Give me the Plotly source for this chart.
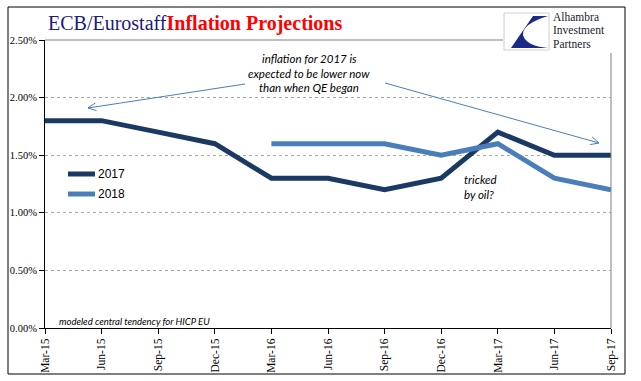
import math
import plotly.graph_objects as go

# ---- data ----
quarters = ["Mar-15", "Jun-15", "Sep-15", "Dec-15", "Mar-16", "Jun-16",
            "Sep-16", "Dec-16", "Mar-17", "Jun-17", "Sep-17"]
proj_2017 = [1.8, 1.8, 1.7, 1.6, 1.3, 1.3, 1.2, 1.3, 1.7, 1.5, 1.5]
quarters_2018 = ["Mar-16", "Jun-16", "Sep-16", "Dec-16", "Mar-17", "Jun-17", "Sep-17"]
proj_2018 = [1.6, 1.6, 1.6, 1.5, 1.6, 1.3, 1.2]
y_ticks = [0.0, 0.5, 1.0, 1.5, 2.0, 2.5]
y_tick_labels = ["0.00%", "0.50%", "1.00%", "1.50%", "2.00%", "2.50%"]

C2017 = "#1B3A63"
C2018 = "#4A7EBB"

W, H = 641, 381
L, R, T, B = 45, 611, 40, 328


def xp(px):
    return (px - L) / (R - L)


def yp(py):
    return (B - py) / (B - T)


fig = go.Figure()
fig.add_trace(go.Scatter(x=quarters, y=proj_2017, mode="lines", name="2017",
                         line=dict(color=C2017, width=5), showlegend=False))
fig.add_trace(go.Scatter(x=quarters_2018, y=proj_2018, mode="lines", name="2018",
                         line=dict(color=C2018, width=5), showlegend=False))

shapes = []
annotations = []

# outer frame
shapes.append(dict(type="rect", xref="paper", yref="paper",
                   x0=xp(8), x1=xp(625), y0=yp(374), y1=yp(7),
                   line=dict(color="black", width=1), fillcolor="rgba(0,0,0,0)", layer="above"))
# top & right plot border
shapes.append(dict(type="line", xref="paper", yref="paper", x0=0, x1=1, y0=1, y1=1,
                   line=dict(color="#808080", width=1)))
shapes.append(dict(type="line", xref="paper", yref="paper", x0=1, x1=1, y0=0, y1=1,
                   line=dict(color="#808080", width=1)))

# logo background
shapes.append(dict(type="rect", xref="paper", yref="paper",
                   x0=xp(503), x1=xp(622), y0=yp(53), y1=yp(10),
                   line=dict(width=0), fillcolor="white", layer="above"))
shapes.append(dict(type="rect", xref="paper", yref="paper",
                   x0=xp(504), x1=xp(549), y0=yp(50), y1=yp(13),
                   line=dict(color="#D0D0D0", width=1), fillcolor="white", layer="above"))


def logo_path(pts):
    s = ""
    for cmd, *coords in pts:
        vals = []
        for j in range(0, len(coords), 2):
            vals.append(f"{xp(coords[j]):.5f},{yp(coords[j+1]):.5f}")
        s += cmd + " ".join(vals) + " "
    return s + "Z"


shapes.append(dict(type="path", xref="paper", yref="paper", layer="above",
                   path=logo_path([("M", 511, 48), ("L", 533, 16), ("L", 548, 16),
                                   ("Q", 522, 24, 523, 35), ("Q", 526, 46, 548, 48)]),
                   fillcolor="#1A2A8A", line=dict(width=0)))

for txt, yy in [("Alhambra", 17), ("Investment", 30.5), ("Partners", 44)]:
    annotations.append(dict(text=txt, xref="paper", yref="paper", x=xp(552), y=yp(yy),
                            xanchor="left", yanchor="middle", showarrow=False, borderpad=0,
                            font=dict(family="Liberation Serif", size=11.5, color="#1C1C2C")))

# title
annotations.append(dict(
    text="<span style='color:#1A1A80'>ECB/Eurostaff</span><span style='color:#FF0000'><b>Inflation Projections</b></span>",
    xref="paper", yref="paper", x=xp(46), y=yp(23), xanchor="left", yanchor="middle",
    showarrow=False, font=dict(family="Liberation Serif", size=20)))

# legend (manual)
for name, col, yy in [("2017", C2017, 174), ("2018", C2018, 194)]:
    shapes.append(dict(type="line", xref="paper", yref="paper", x0=xp(68), x1=xp(95),
                       y0=yp(yy), y1=yp(yy), line=dict(color=col, width=5)))
    annotations.append(dict(text=name, xref="paper", yref="paper", x=xp(96), y=yp(yy),
                            xanchor="left", yanchor="middle", showarrow=False,
                            font=dict(family="Liberation Sans", size=12, color="black")))

ITAL = "Lato"
# commentary
for txt, yy in [("inflation for 2017 is", 58), ("expected to be lower now", 73),
                ("than when QE began", 88)]:
    annotations.append(dict(text="<i>" + txt + "</i>", xref="paper", yref="paper",
                            x=xp(309), y=yp(yy), xanchor="center", yanchor="middle",
                            showarrow=False, font=dict(family=ITAL, size=11.5, color="black")))
for txt, yy in [("tricked", 179), ("by oil?", 194)]:
    annotations.append(dict(text="<i>" + txt + "</i>", xref="paper", yref="paper",
                            x=xp(462), y=yp(yy), xanchor="left", yanchor="middle",
                            showarrow=False, font=dict(family=ITAL, size=11.5, color="black")))
annotations.append(dict(text="<i>modeled central tendency for HICP EU</i>", xref="paper",
                        yref="paper", x=xp(57), y=yp(321), xanchor="left", yanchor="middle",
                        showarrow=False, font=dict(family=ITAL, size=9.5, color="black")))


def arrow(tx, ty, hx, hy, col="#4A7EBB"):
    shapes.append(dict(type="line", xref="paper", yref="paper", x0=xp(tx), y0=yp(ty),
                       x1=xp(hx), y1=yp(hy), line=dict(color=col, width=1)))
    dx, dy = tx - hx, ty - hy
    n = math.hypot(dx, dy)
    bx, by = dx / n, dy / n
    for a in (0.45, -0.45):
        ca, sa = math.cos(a), math.sin(a)
        rx, ry = bx * ca - by * sa, bx * sa + by * ca
        shapes.append(dict(type="line", xref="paper", yref="paper", x0=xp(hx), y0=yp(hy),
                           x1=xp(hx + 9 * rx), y1=yp(hy + 9 * ry),
                           line=dict(color=col, width=1)))


arrow(245, 84, 88, 108)
arrow(385, 83, 599, 143)

fig.update_layout(
    width=W, height=H,
    margin=dict(l=L, r=W - R, t=T, b=H - B, pad=0),
    paper_bgcolor="white", plot_bgcolor="white",
    shapes=shapes, annotations=annotations,
    xaxis=dict(type="category", categoryorder="array", categoryarray=quarters,
               range=[0, len(quarters) - 1], tickvals=quarters, ticktext=quarters,
               tickangle=-90, ticks="outside", ticklen=5, tickcolor="black",
               showline=True, linecolor="black", linewidth=1, showgrid=False,
               tickfont=dict(family="Liberation Serif", size=11.5, color="black"),
               zeroline=False, automargin=False),
    yaxis=dict(range=[0, 2.5], tickvals=y_ticks, ticktext=y_tick_labels,
               ticks="outside", ticklen=5, tickcolor="black",
               showline=True, linecolor="black", linewidth=1,
               showgrid=True, gridcolor="#A6A6A6", griddash="dot", gridwidth=1,
               tickfont=dict(family="Liberation Serif", size=10.5, color="black"),
               zeroline=False, automargin=False),
)

fig.write_html("out.html", config={"displayModeBar": False},
               post_script="document.body.style.margin='0';document.body.style.overflow='hidden';")
